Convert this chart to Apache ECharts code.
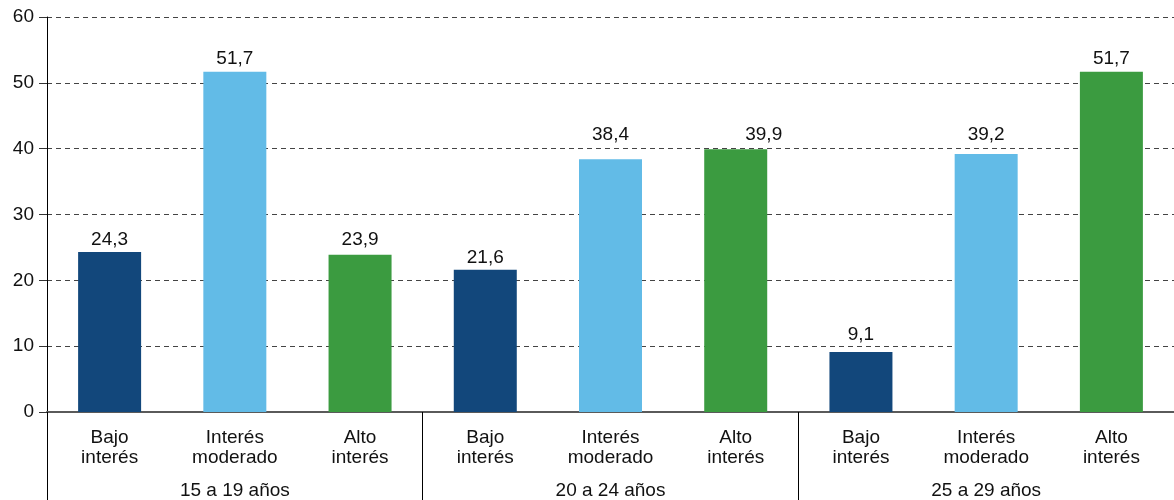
<!DOCTYPE html>
<html>
<head>
<meta charset="utf-8">
<script src="https://cdn.jsdelivr.net/npm/echarts@6/dist/echarts.min.js"></script>
<style>html,body{margin:0;padding:0;background:#fff}#c{width:1174px;height:500px}</style>
</head>
<body>
<div id="c"></div>
<script>
const groups = ['15 a 19 años', '20 a 24 años', '25 a 29 años'];
const levels = ['Bajo\ninterés', 'Interés\nmoderado', 'Alto\ninterés'];
const levelColors = ['#12477b', '#62bbe7', '#3b9b40'];
const values15a19 = [24.3, 51.7, 23.9];
const values20a24 = [21.6, 38.4, 39.9];
const values25a29 = [9.1, 39.2, 51.7];
const yTicks = { min: 0, max: 60, interval: 10 };
// value-label nudges [dx, dy] in px, so labels clear the gridlines as in the source
const labelNudge = [[0, 0], [0, 0], [0, -2], [0, 0], [0, -12], [28, -2], [0, -5], [0, -7], [0, 0]];

const groupValues = [values15a19, values20a24, values25a29];
const categories = [];
const barData = [];
groupValues.forEach(function (vals) {
  vals.forEach(function (v, i) {
    const k = barData.length;
    categories.push(levels[i]);
    barData.push({ value: v, itemStyle: { color: levelColors[i] }, label: { offset: labelNudge[k] } });
  });
});

const font = 'Liberation Sans, Arial, sans-serif';
const chart = echarts.init(document.getElementById('c'), null, { renderer: 'canvas' });
chart.setOption({
  animation: false,
  grid: { left: 47, right: -5, top: 17, bottom: 88, containLabel: false },
  xAxis: [
    {
      type: 'category',
      data: categories,
      position: 'bottom',
      axisLine: { show: true, lineStyle: { color: '#5a5a5a', width: 2 } },
      axisTick: { show: false },
      axisLabel: { margin: 16, fontFamily: font, fontSize: 19, color: '#111', lineHeight: 20, interval: 0 }
    },
    {
      type: 'category',
      data: groups,
      position: 'bottom',
      axisLine: { show: false },
      axisTick: { show: true, length: 90, lineStyle: { color: '#000', width: 1 } },
      axisLabel: { margin: 69, fontFamily: font, fontSize: 19, color: '#111' }
    }
  ],
  yAxis: {
    type: 'value',
    min: yTicks.min,
    max: yTicks.max,
    interval: yTicks.interval,
    axisLine: { show: true, lineStyle: { color: '#000', width: 1 } },
    axisTick: { show: true, length: 8, lineStyle: { color: '#333' } },
    axisLabel: { margin: 13, fontFamily: font, fontSize: 19, color: '#111' },
    splitLine: { show: true, lineStyle: { color: '#444', type: [5, 4], width: 1 } }
  },
  series: [{
    type: 'bar',
    xAxisIndex: 0,
    data: barData,
    barWidth: 63,
    label: {
      show: true,
      position: 'top',
      distance: 3,
      fontFamily: font,
      fontSize: 19,
      color: '#111',
      formatter: function (p) { return p.value.toFixed(1).replace('.', ','); }
    }
  }]
});
</script>
</body>
</html>
